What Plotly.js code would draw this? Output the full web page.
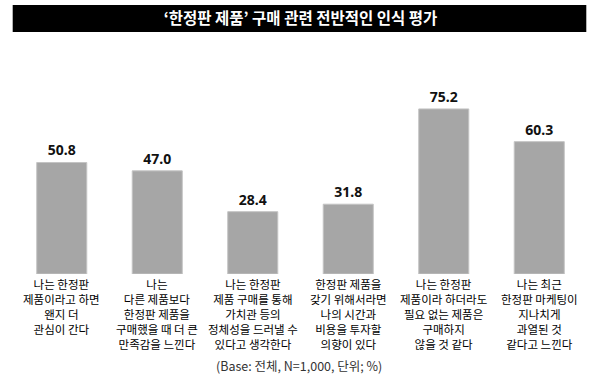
<!DOCTYPE html>
<html>
<head>
<meta charset="utf-8">
<script src="https://cdn.plot.ly/plotly-3.0.1.min.js"></script>
<style>html,body{margin:0;padding:0;background:#fff;}#chart{width:600px;height:384px;}</style>
</head>
<body>
<div id="chart"></div>
<script>
var categories = [
  "나는 한정판<br>제품이라고 하면<br>왠지 더<br>관심이 간다",
  "나는<br>다른 제품보다<br>한정판 제품을<br>구매했을 때 더 큰<br>만족감을 느낀다",
  "나는 한정판<br>제품 구매를 통해<br>가치관 등의<br>정체성을 드러낼 수<br>있다고 생각한다",
  "한정판 제품을<br>갖기 위해서라면<br>나의 시간과<br>비용을 투자할<br>의향이 있다",
  "나는 한정판<br>제품이라 하더라도<br>필요 없는 제품은<br>구매하지<br>않을 것 같다",
  "나는 최근<br>한정판 마케팅이<br>지나치게<br>과열된 것<br>같다고 느낀다"
];
var values = [50.8, 47.0, 28.4, 31.8, 75.2, 60.3];
var valueLabels = ["50.8", "47.0", "28.4", "31.8", "75.2", "60.3"];
var titleText = "‘한정판 제품’ 구매 관련 전반적인 인식 평가";
var noteText = "(Base: 전체, N=1,000, 단위; %)";

var idx = categories.map(function(_, i){ return i; });
var plotTop = 40, plotBottom = 274, plotH = plotBottom - plotTop;
function py(pix){ return (plotBottom - pix) / plotH; }

var trace = {
  type: "bar",
  x: idx,
  y: values,
  width: 0.524,
  text: valueLabels,
  textposition: "outside",
  cliponaxis: false,
  textfont: {family: "Noto Sans, DejaVu Sans, sans-serif", size: 14, color: "#111", weight: 700},
  marker: {color: "#a6a6a6", line: {color: "#c4c4c4", width: 1}},
  hoverinfo: "none"
};

var annotations = categories.map(function(cat, i){
  return {
    text: cat, xref: "x", yref: "paper",
    x: i, y: py(274),
    xanchor: "center", yanchor: "top", align: "center", showarrow: false,
    font: {family: "Noto Sans CJK KR, sans-serif", size: 11.5, color: "#000"}
  };
});
annotations.push({
  text: noteText, xref: "paper", yref: "paper",
  x: (299 - 14.3)/572.4, y: py(365),
  xanchor: "center", yanchor: "middle", showarrow: false,
  font: {family: "Noto Sans CJK KR, sans-serif", size: 12.5, color: "#333"}
});

var layout = {
  width: 600, height: 384,
  margin: {l: 14.3, r: 13.3, t: plotTop, b: 384 - plotBottom},
  paper_bgcolor: "#fff", plot_bgcolor: "#fff",
  showlegend: false,
  title: {
    text: "<b>" + titleText + "</b>",
    font: {family: "Noto Sans CJK KR, sans-serif", size: 15.5, color: "#fff"},
    x: 0.5, xanchor: "center", xref: "paper",
    y: 1 - 18.5/384, yref: "container", yanchor: "middle"
  },
  shapes: [{
    type: "rect", xref: "paper", yref: "paper",
    x0: (13 - 14.3)/572.4, x1: (586 - 14.3)/572.4,
    y0: 1 + (plotTop - 32)/plotH, y1: 1 + (plotTop - 5)/plotH,
    fillcolor: "#000", line: {width: 0}, layer: "below"
  }],
  xaxis: {
    range: [-0.5, 5.5],
    tickmode: "array", tickvals: idx,
    showticklabels: false,
    showgrid: false, zeroline: false, showline: false, ticks: "",
    fixedrange: true
  },
  yaxis: {
    range: [0, 106.6], visible: false, showgrid: false, zeroline: false, fixedrange: true
  },
  annotations: annotations,
  bargap: 0
};

Plotly.newPlot("chart", [trace], layout, {displayModeBar: false, staticPlot: true});
</script>
</body>
</html>
